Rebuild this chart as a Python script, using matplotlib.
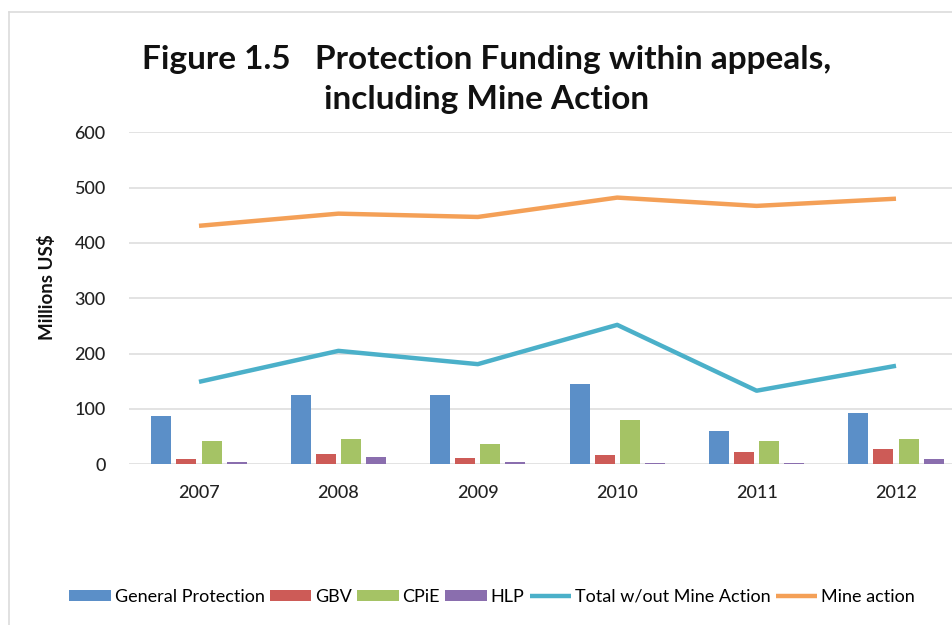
import numpy as np
import matplotlib
matplotlib.use("Agg")
import matplotlib.pyplot as plt
from matplotlib.lines import Line2D

years = ["2007", "2008", "2009", "2010", "2011", "2012"]
general_protection = [88, 125, 125, 145, 61, 92]
gbv = [10, 19, 12, 17, 23, 27]
cpie = [42, 45, 36, 80, 43, 45]
hlp = [5, 14, 5, 3, 2, 10]
total_wo_mine = [149, 205, 181, 252, 133, 178]
mine_action = [431, 453, 447, 482, 467, 480]

plt.rcParams['font.family'] = ['Lato', 'DejaVu Sans']

fig = plt.figure(figsize=(9.53, 6.25), dpi=100)
W, H = 953, 625

# card border
fig.add_artist(Line2D([9 / W, 9 / W], [0, 1 - 12 / H], color="#dcdcdc", lw=1.2, transform=fig.transFigure))
fig.add_artist(Line2D([9 / W, 1], [1 - 12 / H, 1 - 12 / H], color="#dcdcdc", lw=1.2, transform=fig.transFigure))

ax = fig.add_axes([129.3 / W, 1 - 464.3 / H, (W - 129.3) / W, (464.3 - 132.3) / H])

x = np.arange(len(years))
bw = 0.143
step = 0.18
bar_series = [
    (general_protection, "#5b8fc8", "General Protection"),
    (gbv, "#cd5b57", "GBV"),
    (cpie, "#a5c365", "CPiE"),
    (hlp, "#8a6eae", "HLP"),
]
handles = []
for i, (vals, col, lab) in enumerate(bar_series):
    b = ax.bar(x + (i - 1.5) * step, vals, width=bw, color=col, label=lab, zorder=3)
    handles.append(b)

l1, = ax.plot(x, total_wo_mine, color="#4bb0c9", lw=3.2, label="Total w/out Mine Action", zorder=4, solid_capstyle="butt")
l2, = ax.plot(x, mine_action, color="#f4a057", lw=3.2, label="Mine action", zorder=4, solid_capstyle="butt")
handles += [l1, l2]

ax.set_xlim(-0.5, (W - 129.3) / 139.4 - 0.5)
ax.set_ylim(0, 600)
ax.set_yticks(range(0, 601, 100))
ax.set_xticks(x)
ax.set_xticklabels(years)
ax.grid(axis="y", color="#dedede", lw=1.2, zorder=0)
for s in ax.spines.values():
    s.set_visible(False)
ax.tick_params(axis="both", length=0, labelsize=13, colors="#222222")
ax.tick_params(axis="y", pad=17)
ax.tick_params(axis="x", pad=15)
for t in ax.get_yticklabels() + ax.get_xticklabels():
    t.set_fontweight("medium")

fig.text(47 / W, 1 - 287 / H, "Millions US$", rotation=90, ha="center", va="center",
         fontsize=13.5, fontweight="bold", color="#111111")

fig.text(487 / W, 1 - 59 / H, "Figure 1.5   Protection Funding within appeals,", ha="center", va="center",
         fontsize=24, fontweight="bold", color="#111111")
fig.text(487 / W, 1 - 100 / H, "including Mine Action", ha="center", va="center",
         fontsize=24, fontweight="bold", color="#111111")

fig.legend(handles=handles, labels=[h.get_label() for h in handles],
           loc="center", bbox_to_anchor=(492 / W, 1 - 597 / H), ncol=6, frameon=False,
           fontsize=13, handlelength=2.3, handletextpad=0.2, columnspacing=0.3,
           handleheight=0.6)

fig.savefig("out.png", dpi=100)
